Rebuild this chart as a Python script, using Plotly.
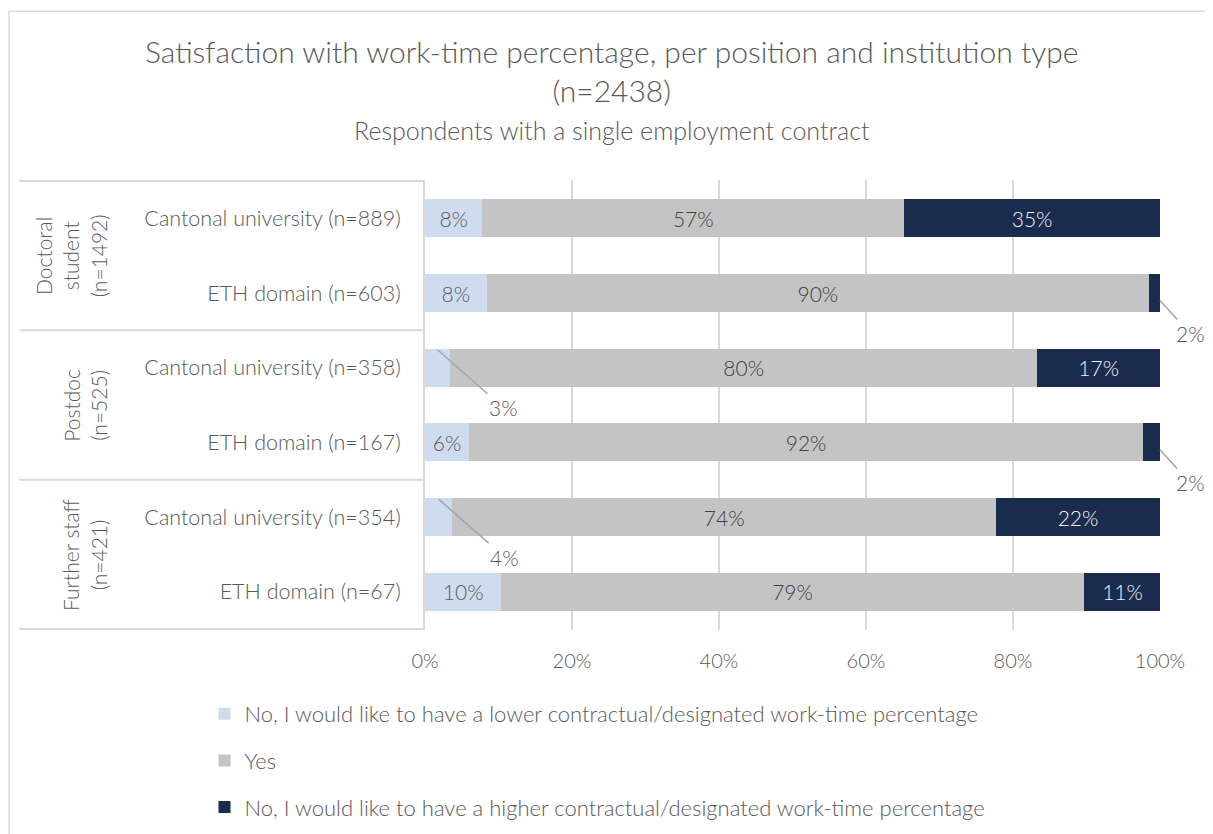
import plotly.graph_objects as go

# %% Data
categories = [
    "Cantonal university (n=889)", "ETH domain (n=603)",
    "Cantonal university (n=358)", "ETH domain (n=167)",
    "Cantonal university (n=354)", "ETH domain (n=67)",
]
groups = ["Doctoral<br>student<br>(n=1492)", "Postdoc<br>(n=525)", "Further staff<br>(n=421)"]
series_names = [
    "No, I would like to have a lower contractual/designated work-time percentage",
    "Yes",
    "No, I would like to have a higher contractual/designated work-time percentage",
]
lower = [7.8, 8.4, 3.4, 6.0, 3.7, 10.4]
yes = [57.4, 90.1, 79.9, 91.7, 74.0, 79.2]
higher = [34.8, 1.5, 16.7, 2.3, 22.3, 10.6]
tick_vals = [0, 20, 40, 60, 80, 100]
tick_text = ["0%", "20%", "40%", "60%", "80%", "100%"]

colors = ["#cfdcef", "#c4c4c4", "#1a2c4e"]
text_colors = ["#595959", "#404040", "#f2f2f2"]
FONT = "Source Sans Pro, Lato, Noto Sans, sans-serif"
GREY = "#595959"
SMALL = 5  # below this the label goes outside with a leader line

fig = go.Figure()
for i, (name, vals) in enumerate(zip(series_names, [lower, yes, higher])):
    txt = [f"{round(v)}%" if v >= SMALL else "" for v in vals]
    fig.add_trace(go.Bar(
        y=categories, x=vals, orientation="h", name=name,
        marker=dict(color=colors[i], line=dict(width=0)),
        text=txt, textposition="inside", insidetextanchor="middle",
        textangle=0, textfont=dict(size=21, color=text_colors[i], family=FONT, weight=300),
        legendgroup=str(i), hoverinfo="x+y",
    ))

# leader-line labels for the small segments
starts = [[0] * 6, lower, [l + y for l, y in zip(lower, yes)]]
for i, vals in enumerate([lower, yes, higher]):
    for j, v in enumerate(vals):
        if v < SMALL:
            left = i == 0
            fig.add_annotation(
                x=starts[i][j] + v / 2 if left else 100, y=j - 0.24 if left else j + 0.1,
                text=f"{round(v)}%", showarrow=True, arrowhead=0,
                arrowwidth=1.5, arrowcolor="#a6a6a6",
                ax=66 if left else 30, ay=58 if left else 33, standoff=0,
                font=dict(size=21, color=GREY, family=FONT, weight=300),
            )

# group labels on the left
for g, label in enumerate(groups):
    fig.add_annotation(
        xref="paper", yref="y", x=-0.425, y=2 * g + 0.5,
        text=label, textangle=-90, showarrow=False,
        xanchor="right", yanchor="middle",
        font=dict(size=21, color=GREY, family=FONT, weight=300),
    )
    fig.add_shape(type="line", xref="paper", yref="y",
                  x0=-0.552, x1=0, y0=2 * g - 0.5, y1=2 * g - 0.5,
                  line=dict(color="#d9d9d9", width=2))
fig.add_shape(type="line", xref="paper", yref="y",
              x0=-0.552, x1=0, y0=5.5, y1=5.5,
              line=dict(color="#d9d9d9", width=2))

# outer border
fig.add_shape(type="rect", xref="paper", yref="paper",
              x0=-0.566, x1=1.2, y0=-1.0, y1=1.375,
              line=dict(color="#d9d9d9", width=1.5))

fig.add_annotation(
    xref="paper", yref="paper", x=0.254, y=1.111,
    xanchor="center", yanchor="middle",
    text="Respondents with a single employment contract", showarrow=False,
    font=dict(size=25, color=GREY, family=FONT, weight=300),
)

# page body has an 8px margin; figure is a bit taller than the window so the
# legend has room without shrinking the plot area
fig.update_layout(
    width=1205, height=860,
    margin=dict(l=417, r=53, t=172, b=238),
    paper_bgcolor="white", plot_bgcolor="white",
    barmode="stack", bargap=0.49,
    font=dict(family=FONT, color=GREY, weight=300),
    title=dict(
        text="Satisfaction with work-time percentage, per position and institution type<br>(n=2438)",
        x=0.501, xanchor="center", y=0.936, yanchor="top",
        font=dict(size=30, color=GREY, family=FONT, weight=300),
    ),
    xaxis=dict(
        range=[0, 100], tickvals=tick_vals, ticktext=tick_text,
        showgrid=True, gridcolor="#d9d9d9", gridwidth=1.5,
        zeroline=False, showline=False, ticks="", automargin=False,
        tickfont=dict(size=20, color=GREY), ticklabelstandoff=17,
    ),
    yaxis=dict(
        categoryorder="array", categoryarray=categories, autorange="reversed",
        showline=True, linecolor="#d9d9d9", linewidth=2, ticks="", automargin=False,
        tickfont=dict(size=21.5, color=GREY), ticklabelstandoff=18,
    ),
    legend=dict(
        x=-0.3, y=-0.14, xanchor="left", yanchor="top",
        traceorder="grouped", tracegroupgap=15,
        font=dict(size=22, color=GREY, family=FONT, weight=300),
        itemclick=False,
    ),
    showlegend=True,
)

fig.write_html("out.html")
